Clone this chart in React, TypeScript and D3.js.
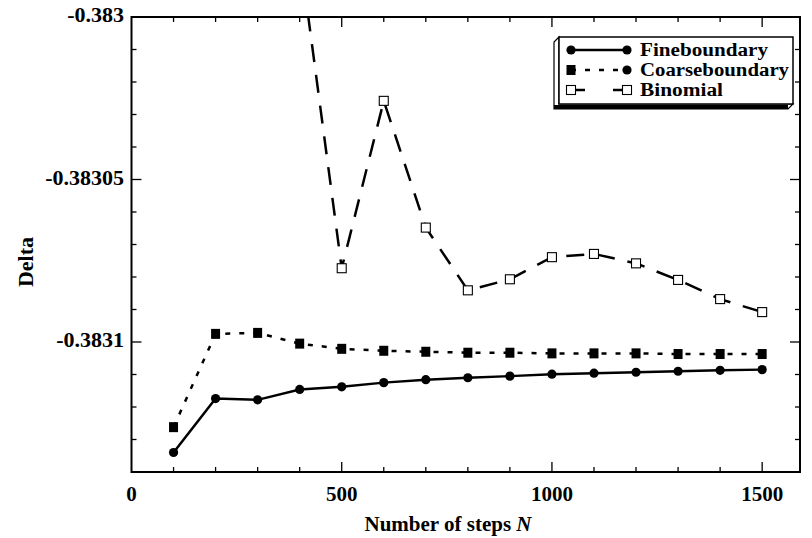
import React from "react";
import * as d3 from "d3";

// number of steps used for the boundary schemes
const steps = [100, 200, 300, 400, 500, 600, 700, 800, 900, 1000, 1100, 1200, 1300, 1400, 1500];
const fineDelta = [
  -0.383134, -0.3831174, -0.3831178, -0.3831146, -0.3831138, -0.3831125, -0.3831116, -0.383111,
  -0.3831105, -0.3831099, -0.3831096, -0.3831093, -0.383109, -0.3831087, -0.3831085,
];
const coarseDelta = [
  -0.3831262, -0.3830975, -0.3830972, -0.3831005, -0.3831021, -0.3831027, -0.383103, -0.3831033,
  -0.3831033, -0.3831035, -0.3831035, -0.3831035, -0.3831037, -0.3831037, -0.3831037,
];
const binomialSteps = [400, 500, 600, 700, 800, 900, 1000, 1100, 1200, 1300, 1400, 1500];
const binomialDelta = [
  -0.38298, -0.3830773, -0.3830258, -0.3830648, -0.3830841, -0.3830807, -0.3830739, -0.3830729,
  -0.3830758, -0.3830809, -0.3830868, -0.3830908,
];

const xTickLabels = [0, 500, 1000, 1500];
const yTickValues = [-0.383, -0.38305, -0.3831];
const yTickLabels = ["-0.383", "-0.38305", "-0.3831"];
const legendLabels = ["Fineboundary", "Coarseboundary", "Binomial"];
const legendWidths = [128, 149, 83];

const W = 812;
const H = 538;
const FONT = "'Liberation Serif', 'Times New Roman', serif";

export default function App() {
  const x = d3.scaleLinear().domain([0, 1590]).range([131.5, 800]);
  const y = d3.scaleLinear().domain([-0.38314, -0.383]).range([472, 17]);
  const [x0, x1] = x.range();
  const [y0, y1] = y.range();

  const xMinor = d3.range(100, 1590, 100);
  const yMinor = d3.range(1, 14).map(i => -0.383 - i * 0.00001);

  const line = d3.line<[number, number]>().x(d => x(d[0])).y(d => y(d[1]));
  const fine = steps.map((n, i) => [n, fineDelta[i]] as [number, number]);
  const coarse = steps.map((n, i) => [n, coarseDelta[i]] as [number, number]);
  const binom = binomialSteps.map((n, i) => [n, binomialDelta[i]] as [number, number]);

  const isMajorX = (v: number) => v % 500 === 0;
  const isMajorY = (v: number) => yTickValues.some(t => Math.abs(t - v) < 1e-9);

  const lx0 = 571, lx1 = 627;
  const legendY = [50, 70, 90];

  return (
    <div style={{ position: "absolute", left: 0, top: 0 }}>
      <svg width={W} height={H} style={{ display: "block", background: "#fff" }}>
        <defs>
          <clipPath id="plot">
            <rect x={x0} y={y1} width={x1 - x0} height={y0 - y1} />
          </clipPath>
        </defs>

        {/* ticks on all four sides, pointing in */}
        <g stroke="#000" strokeWidth={1.3}>
          {xMinor.map(v => {
            const len = isMajorX(v) ? 10 : 5;
            return (
              <g key={"xt" + v}>
                <line x1={x(v)} x2={x(v)} y1={y0} y2={y0 - len} />
                <line x1={x(v)} x2={x(v)} y1={y1} y2={y1 + len} />
              </g>
            );
          })}
          {yMinor.map(v => {
            const len = isMajorY(v) ? 10 : 5;
            return (
              <g key={"yt" + v}>
                <line x1={x0} x2={x0 + len} y1={y(v)} y2={y(v)} />
                <line x1={x1} x2={x1 - len} y1={y(v)} y2={y(v)} />
              </g>
            );
          })}
        </g>

        <g clipPath="url(#plot)" fill="none" stroke="#000" strokeWidth={2.5}>
          <path d={line(fine) || ""} />
          <path d={line(coarse) || ""} strokeDasharray="5,9" />
          <path d={line(binom) || ""} strokeDasharray="18,13" />
        </g>

        <g clipPath="url(#plot)">
          {fine.map(d => (
            <circle key={"f" + d[0]} cx={x(d[0])} cy={y(d[1])} r={4.6} fill="#000" />
          ))}
          {coarse.map(d => (
            <rect key={"c" + d[0]} x={x(d[0]) - 4.5} y={y(d[1]) - 5} width={9} height={10} fill="#000" />
          ))}
          {binom.map(d => (
            <rect key={"b" + d[0]} x={x(d[0]) - 4.5} y={y(d[1]) - 4.5} width={9} height={9} fill="#fff" stroke="#000" strokeWidth={1.1} />
          ))}
        </g>

        {/* frame */}
        <rect x={x0} y={y1} width={x1 - x0} height={y0 - y1} fill="none" stroke="#000" strokeWidth={2} />

        {/* tick labels and axis titles */}
        <g fontFamily={FONT} fontWeight="bold" fill="#000">
          {xTickLabels.map(v => (
            <text key={"xl" + v} x={x(v)} y={501} textAnchor="middle" fontSize={21}>{v}</text>
          ))}
          {yTickValues.map((v, i) => (
            <text key={"yl" + v} x={124} y={y(v) + 5} textAnchor="end" fontSize={22}>{yTickLabels[i]}</text>
          ))}
          <text x={448} y={531} textAnchor="middle" fontSize={21}>
            Number of steps <tspan fontStyle="italic">N</tspan>
          </text>
          <text transform="translate(33,262) rotate(-90)" textAnchor="middle" fontSize={22}>Delta</text>
        </g>

        {/* legend with bevelled 3D box */}
        <g>
          <path d="M559,37 L554,42 L554,109 L788,109 L793,104 L559,104 Z" fill="#fff" stroke="#000" strokeWidth={1.2} />
          <rect x={554} y={105} width={234} height={4} fill="#000" />
          <rect x={559} y={37} width={234} height={67} fill="#fff" stroke="#000" strokeWidth={1.5} />
          <line x1={lx0} x2={lx1} y1={legendY[0]} y2={legendY[0]} stroke="#000" strokeWidth={2.5} />
          <circle cx={lx0} cy={legendY[0]} r={4.6} />
          <circle cx={lx1} cy={legendY[0]} r={4.6} />
          <line x1={lx0} x2={lx1} y1={legendY[1]} y2={legendY[1]} stroke="#000" strokeWidth={2.5} strokeDasharray="5,9" />
          <rect x={lx0 - 4.5} y={legendY[1] - 5} width={9} height={10} />
          <circle cx={lx1} cy={legendY[1]} r={4.6} />
          <line x1={lx0} x2={lx0 + 14} y1={legendY[2]} y2={legendY[2]} stroke="#000" strokeWidth={2.5} />
          <line x1={lx1 - 14} x2={lx1} y1={legendY[2]} y2={legendY[2]} stroke="#000" strokeWidth={2.5} />
          <rect x={lx0 - 4.5} y={legendY[2] - 4.5} width={9} height={9} fill="#fff" stroke="#000" strokeWidth={1.1} />
          <rect x={lx1 - 4.5} y={legendY[2] - 4.5} width={9} height={9} fill="#fff" stroke="#000" strokeWidth={1.1} />
          <g fontFamily={FONT} fontWeight="bold" fontSize={18}>
            {legendLabels.map((t, i) => (
              <text key={t} x={640} y={legendY[i] + 6} textLength={legendWidths[i]} lengthAdjust="spacingAndGlyphs">{t}</text>
            ))}
          </g>
        </g>
      </svg>
    </div>
  );
}
